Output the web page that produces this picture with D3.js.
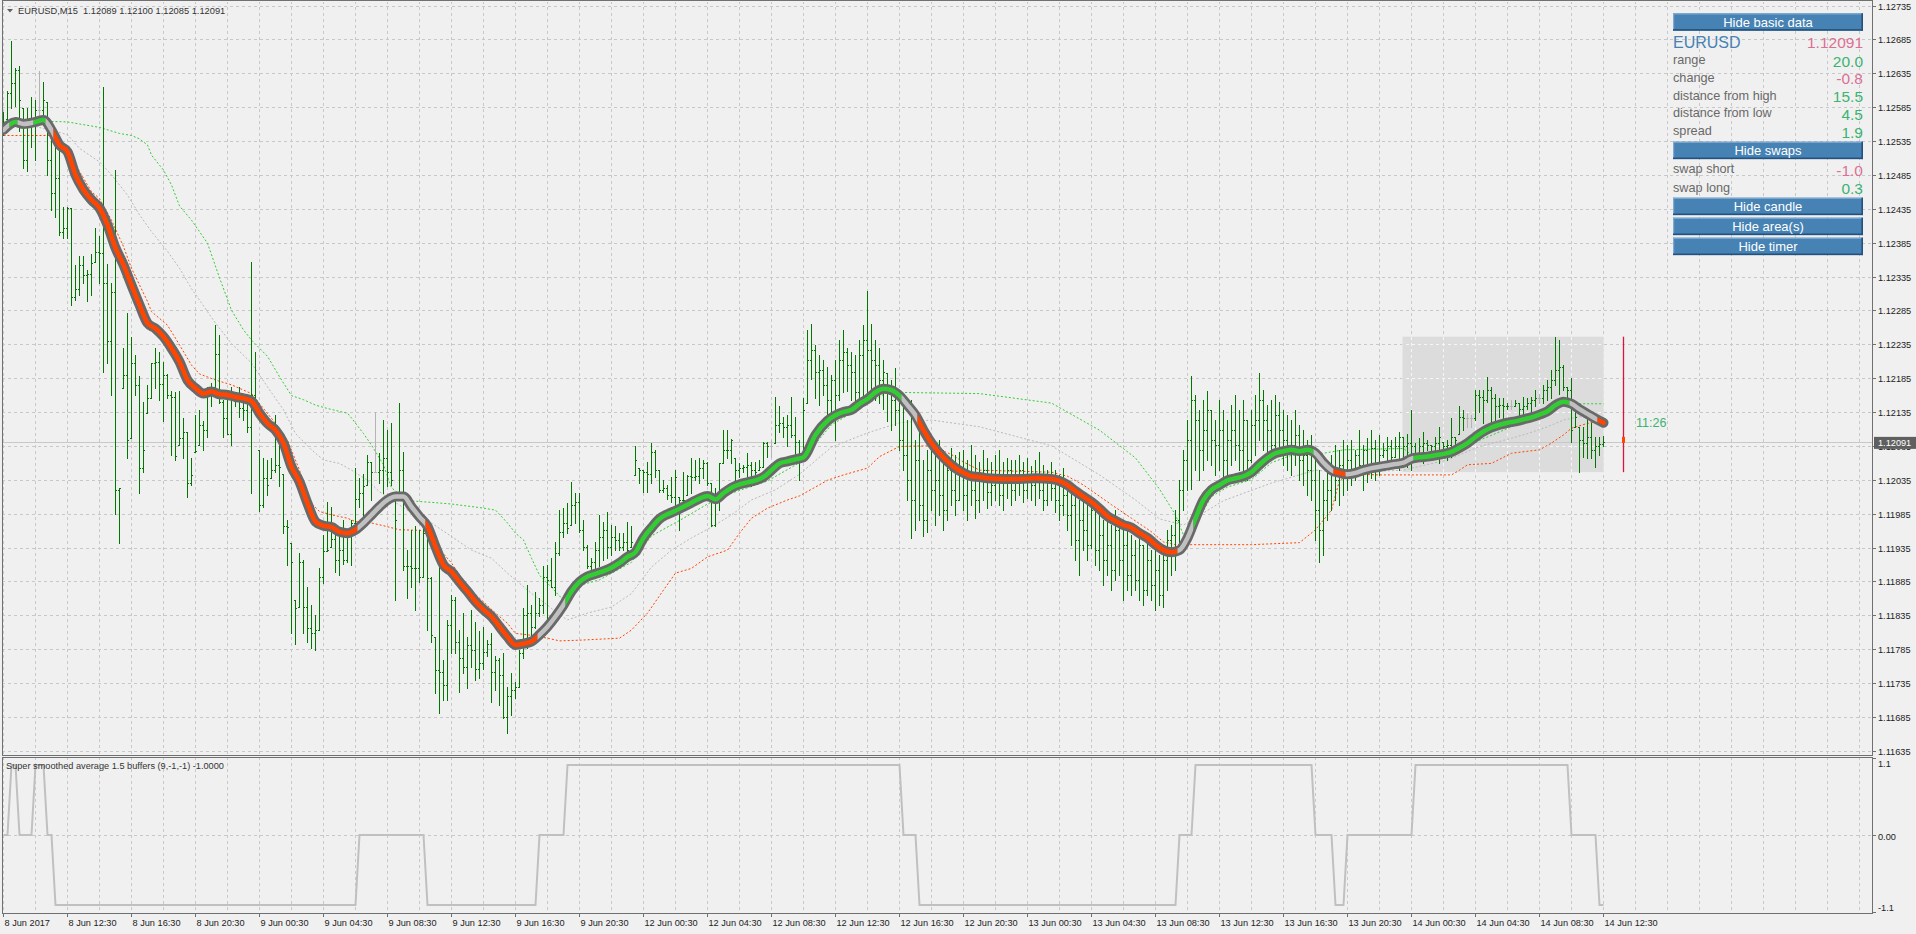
<!DOCTYPE html>
<html><head><meta charset="utf-8">
<script src="https://cdn.jsdelivr.net/npm/d3@7/dist/d3.min.js"></script>
<style>
html,body{margin:0;padding:0;background:#f0f0f0;overflow:hidden;}
svg{display:block;font-family:"Liberation Sans",Arial,sans-serif;}
</style></head><body>
<svg id="c" width="1916" height="934"></svg>
<script>
// ---------------- DATA ----------------
const symbol = "EURUSD", timeframe = "M15";
const priceTicks = [1.11635,1.11685,1.11735,1.11785,1.11835,1.11885,1.11935,1.11985,1.12035,1.12085,1.12135,1.12185,1.12235,1.12285,1.12335,1.12385,1.12435,1.12485,1.12535,1.12585,1.12635,1.12685,1.12735];
const timeLabels = ["8 Jun 2017","8 Jun 12:30","8 Jun 16:30","8 Jun 20:30","9 Jun 00:30","9 Jun 04:30","9 Jun 08:30","9 Jun 12:30","9 Jun 16:30","9 Jun 20:30","12 Jun 00:30","12 Jun 04:30","12 Jun 08:30","12 Jun 12:30","12 Jun 16:30","12 Jun 20:30","13 Jun 00:30","13 Jun 04:30","13 Jun 08:30","13 Jun 12:30","13 Jun 16:30","13 Jun 20:30","14 Jun 00:30","14 Jun 04:30","14 Jun 08:30","14 Jun 12:30"];
const subTicks = [1.1, 0, -1.1];
const subTickLabels = ["1.1", "0.00", "-1.1"];
const subTitle = "Super smoothed average 1.5 buffers (9,-1,-1) -1.0000";

const barHigh = [
1.12579,1.12609,1.12684,1.12643,1.12646,1.12584,1.12584,1.12601,1.12596,1.12639,1.12623,1.12594,1.12545,1.12542,1.12530,1.12439,1.12439,1.12437,1.12353,1.12366,
1.12366,1.12345,1.12369,1.12407,1.12395,1.12616,1.12354,1.12326,1.12493,1.12024,1.12230,1.12282,1.12247,1.12220,1.12189,1.12151,1.12176,1.12208,1.12230,1.12225,
1.12210,1.12192,1.12167,1.12166,1.12167,1.12127,1.12106,1.12068,1.12131,1.12139,1.12122,1.12173,1.12178,1.12264,1.12250,1.12154,1.12163,1.12173,1.12161,1.12173,
1.12154,1.12161,1.12358,1.12225,1.12080,1.12068,1.12065,1.12068,1.12131,1.12099,1.12045,1.11976,1.11942,1.11858,1.11927,1.11917,1.11878,1.11851,1.11836,1.11905,
1.11954,1.12003,1.11996,1.11967,1.11957,1.11976,1.11962,1.11976,1.12053,1.12038,1.12045,1.12072,1.12062,1.12136,1.12075,1.12124,1.12109,1.12119,1.12016,1.12149,
1.12077,1.11932,1.11962,1.11967,1.11962,1.11976,1.11967,1.11893,1.11804,1.11910,1.11770,1.11829,1.11866,1.11863,1.11814,1.11839,1.11804,1.11844,1.11826,1.11812,
1.11819,1.11799,1.11809,1.11775,1.11772,1.11780,1.11730,1.11750,1.11738,1.11785,1.11846,1.11880,1.11851,1.11870,1.11861,1.11908,1.11910,1.11920,1.11944,1.11991,
1.11994,1.12001,1.12033,1.12016,1.12016,1.11976,1.11940,1.11920,1.11944,1.11984,1.11974,1.11988,1.11969,1.11967,1.11957,1.11957,1.11973,1.11967,1.12085,1.12053,
1.12050,1.12062,1.12090,1.12080,1.12050,1.12035,1.12028,1.12040,1.12050,1.12011,1.12048,1.12043,1.12068,1.12065,1.12068,1.12065,1.12062,1.12031,1.12023,1.12060,
1.12110,1.12109,1.12096,1.12068,1.12060,1.12058,1.12076,1.12062,1.12062,1.12065,1.12092,1.12092,1.12095,1.12158,1.12144,1.12129,1.12131,1.12158,1.12129,1.12095,
1.12157,1.12257,1.12266,1.12235,1.12220,1.12213,1.12202,1.12190,1.12213,1.12242,1.12257,1.12230,1.12224,1.12220,1.12242,1.12264,1.12314,1.12266,1.12242,1.12230,
1.12213,1.12193,1.12183,1.12201,1.12168,1.12161,1.12124,1.12154,1.12095,1.12109,1.12065,1.12080,1.12087,1.12072,1.12095,1.12080,1.12062,1.12083,1.12072,1.12077,
1.12080,1.12065,1.12087,1.12072,1.12062,1.12080,1.12068,1.12062,1.12072,1.12080,1.12062,1.12068,1.12065,1.12065,1.12072,1.12062,1.12068,1.12056,1.12065,1.12077,
1.12058,1.12050,1.12062,1.12050,1.12043,1.12053,1.12035,1.12021,1.12028,1.12006,1.12013,1.11999,1.12009,1.11991,1.11999,1.11976,1.11984,1.11969,1.11991,1.11976,
1.11962,1.11969,1.11954,1.11947,1.11962,1.11940,1.11947,1.11932,1.11940,1.11925,1.11932,1.11962,1.11969,1.11991,1.12035,1.12080,1.12124,1.12189,1.12161,1.12139,
1.12154,1.12167,1.12139,1.12124,1.12154,1.12139,1.12124,1.12146,1.12161,1.12139,1.12154,1.12124,1.12139,1.12161,1.12193,1.12168,1.12146,1.12154,1.12161,1.12151,
1.12139,1.12131,1.12124,1.12139,1.12117,1.12109,1.12095,1.12102,1.12080,1.12050,1.12035,1.12065,1.12072,1.12087,1.12080,1.12095,1.12087,1.12095,1.12080,1.12109,
1.12087,1.12097,1.12109,1.12095,1.12102,1.12090,1.12099,1.12095,1.12099,1.12107,1.12099,1.12104,1.12139,1.12090,1.12097,1.12107,1.12095,1.12087,1.12099,1.12114,
1.12092,1.12095,1.12127,1.12099,1.12144,1.12139,1.12134,1.12131,1.12168,1.12168,1.12168,1.12188,1.12173,1.12163,1.12156,1.12156,1.12149,1.12154,1.12154,1.12149,
1.12158,1.12156,1.12158,1.12168,1.12163,1.12176,1.12183,1.12198,1.12247,1.12242,1.12205,1.12173,1.12186,1.12146,1.12114,1.12114,1.12129,1.12119,1.12099,1.12099,
1.12100];

const barLow = [
1.12545,1.12569,1.12584,1.12587,1.12550,1.12496,1.12491,1.12527,1.12508,1.12564,1.12567,1.12486,1.12434,1.12424,1.12397,1.12392,1.12392,1.12294,1.12301,1.12309,
1.12326,1.12299,1.12309,1.12358,1.12326,1.12195,1.12208,1.12161,1.11986,1.11942,1.12171,1.12068,1.12097,1.12161,1.12016,1.12048,1.12134,1.12156,1.12171,1.12154,
1.12122,1.12156,1.12072,1.12065,1.12087,1.12068,1.12011,1.12028,1.12077,1.12087,1.12080,1.12099,1.12144,1.12173,1.12149,1.12099,1.12104,1.12087,1.12144,1.12129,
1.12124,1.12107,1.12016,1.12134,1.11989,1.11996,1.12013,1.12038,1.12048,1.12026,1.11957,1.11910,1.11809,1.11794,1.11848,1.11809,1.11797,1.11787,1.11785,1.11814,
1.11883,1.11930,1.11937,1.11900,1.11895,1.11912,1.11915,1.11910,1.11967,1.11996,1.11981,1.12028,1.12006,1.12048,1.12031,1.12016,1.12026,1.12028,1.11858,1.12011,
1.11903,1.11861,1.11878,1.11844,1.11885,1.11893,1.11814,1.11797,1.11721,1.11691,1.11711,1.11711,1.11780,1.11780,1.11723,1.11750,1.11728,1.11760,1.11740,1.11743,
1.11757,1.11775,1.11708,1.11725,1.11703,1.11684,1.11662,1.11689,1.11713,1.11730,1.11772,1.11787,1.11799,1.11817,1.11834,1.11839,1.11829,1.11878,1.11866,1.11925,
1.11952,1.11957,1.11969,1.11972,1.11959,1.11932,1.11905,1.11903,1.11905,1.11908,1.11917,1.11920,1.11925,1.11932,1.11932,1.11932,1.11927,1.11937,1.12043,1.12031,
1.12018,1.12018,1.12031,1.12040,1.12018,1.12018,1.12008,1.12003,1.11991,1.11962,1.11989,1.12013,1.12016,1.12035,1.12031,1.12038,1.12028,1.11967,1.11967,1.11991,
1.12060,1.12068,1.12060,1.12035,1.12040,1.12048,1.12040,1.12026,1.12045,1.12050,1.12055,1.12070,1.12070,1.12090,1.12107,1.12099,1.12085,1.12099,1.12072,1.12035,
1.12077,1.12149,1.12185,1.12157,1.12146,1.12161,1.12123,1.12127,1.12095,1.12154,1.12165,1.12167,1.12154,1.12140,1.12148,1.12161,1.12149,1.12167,1.12154,1.12149,
1.12140,1.12123,1.12109,1.12117,1.12080,1.12050,1.12006,1.11950,1.11962,1.11976,1.11953,1.11959,1.11991,1.11969,1.11984,1.11962,1.11976,1.11999,1.11984,1.12006,
1.11991,1.11976,1.11999,1.11979,1.11988,1.12006,1.11994,1.11999,1.12006,1.11999,1.11991,1.12009,1.11999,1.12006,1.12013,1.12003,1.12009,1.12006,1.11999,1.12009,
1.11991,1.11999,1.12006,1.11988,1.11976,1.11984,1.11962,1.11940,1.11917,1.11895,1.11932,1.11917,1.11935,1.11910,1.11903,1.11880,1.11895,1.11873,1.11888,1.11895,
1.11858,1.11873,1.11866,1.11873,1.11858,1.11851,1.11866,1.11858,1.11844,1.11851,1.11848,1.11873,1.11895,1.11903,1.11940,1.11991,1.12021,1.12022,1.12050,1.12035,
1.12050,1.12065,1.12058,1.12043,1.12050,1.12035,1.12038,1.12058,1.12065,1.12050,1.12043,1.12035,1.12062,1.12072,1.12095,1.12080,1.12068,1.12065,1.12080,1.12072,
1.12058,1.12050,1.12043,1.12058,1.12035,1.12028,1.12013,1.12006,1.11947,1.11914,1.11925,1.11976,1.11991,1.12006,1.11999,1.12013,1.12021,1.12028,1.12035,1.12043,
1.12021,1.12033,1.12038,1.12035,1.12043,1.12070,1.12065,1.12060,1.12070,1.12050,1.12070,1.12055,1.12050,1.12065,1.12065,1.12060,1.12080,1.12070,1.12070,1.12060,
1.12080,1.12065,1.12070,1.12087,1.12104,1.12109,1.12114,1.12114,1.12124,1.12136,1.12119,1.12151,1.12114,1.12119,1.12129,1.12122,1.12141,1.12141,1.12144,1.12129,
1.12124,1.12141,1.12129,1.12144,1.12149,1.12149,1.12154,1.12156,1.12176,1.12163,1.12168,1.12149,1.12092,1.12114,1.12047,1.12070,1.12068,1.12068,1.12055,1.12072,
1.12085];

const barClose = [
1.12560,1.12606,1.12621,1.12640,1.12596,1.12508,1.12560,1.12567,1.12582,1.12582,1.12596,1.12508,1.12459,1.12481,1.12402,1.12408,1.12437,1.12306,1.12317,1.12353,
1.12338,1.12340,1.12356,1.12372,1.12371,1.12326,1.12240,1.12313,1.12021,1.12024,1.12190,1.12095,1.12208,1.12176,1.12053,1.12080,1.12157,1.12208,1.12210,1.12177,
1.12190,1.12161,1.12158,1.12071,1.12097,1.12107,1.12031,1.12043,1.12078,1.12117,1.12109,1.12161,1.12173,1.12222,1.12151,1.12127,1.12104,1.12156,1.12154,1.12142,
1.12139,1.12114,1.12161,1.12151,1.11999,1.12038,1.12028,1.12050,1.12058,1.12055,1.11967,1.11966,1.11915,1.11846,1.11915,1.11848,1.11817,1.11810,1.11814,1.11893,
1.11930,1.11932,1.11949,1.11917,1.11932,1.11917,1.11954,1.11972,1.12008,1.12016,1.12026,1.12062,1.12048,1.12048,1.12050,1.12068,1.12048,1.12035,1.11976,1.12050,
1.11908,1.11908,1.11905,1.11905,1.11893,1.11957,1.11891,1.11807,1.11755,1.11752,1.11733,1.11821,1.11858,1.11797,1.11772,1.11760,1.11792,1.11785,1.11757,1.11765,
1.11782,1.11794,1.11752,1.11770,1.11748,1.11686,1.11716,1.11725,1.11730,1.11780,1.11836,1.11839,1.11819,1.11839,1.11851,1.11893,1.11888,1.11878,1.11927,1.11959,
1.11972,1.11964,1.11999,1.12003,1.11962,1.11937,1.11908,1.11914,1.11932,1.11952,1.11962,1.11937,1.11952,1.11947,1.11937,1.11944,1.11932,1.11944,1.12065,1.12050,
1.12048,1.12045,1.12077,1.12050,1.12021,1.12024,1.12013,1.12011,1.12040,1.12006,1.12006,1.12041,1.12040,1.12041,1.12053,1.12061,1.12031,1.11969,1.12006,1.12060,
1.12080,1.12080,1.12094,1.12050,1.12053,1.12055,1.12058,1.12050,1.12048,1.12055,1.12090,1.12086,1.12086,1.12117,1.12120,1.12114,1.12117,1.12102,1.12092,1.12072,
1.12139,1.12213,1.12227,1.12195,1.12198,1.12176,1.12154,1.12183,1.12161,1.12213,1.12224,1.12205,1.12195,1.12165,1.12220,1.12242,1.12227,1.12213,1.12205,1.12183,
1.12195,1.12165,1.12154,1.12139,1.12095,1.12072,1.12035,1.12006,1.12065,1.11999,1.11976,1.12050,1.12021,1.12035,1.12013,1.11991,1.12050,1.12021,1.12006,1.12050,
1.12013,1.12038,1.12021,1.12006,1.12035,1.12050,1.12018,1.12028,1.12043,1.12013,1.12033,1.12050,1.12021,1.12038,1.12050,1.12021,1.12043,1.12028,1.12035,1.12021,
1.12006,1.12038,1.12024,1.12006,1.11999,1.12013,1.11984,1.11999,1.11947,1.11976,1.11962,1.11940,1.11991,1.11932,1.11954,1.11917,1.11940,1.11903,1.11962,1.11917,
1.11940,1.11895,1.11925,1.11888,1.11940,1.11873,1.11917,1.11880,1.11903,1.11866,1.11917,1.11947,1.11954,1.11976,1.12021,1.12065,1.12095,1.12154,1.12124,1.12080,
1.12109,1.12139,1.12095,1.12087,1.12109,1.12065,1.12095,1.12109,1.12087,1.12080,1.12124,1.12065,1.12117,1.12124,1.12154,1.12124,1.12109,1.12087,1.12131,1.12109,
1.12095,1.12080,1.12087,1.12102,1.12065,1.12072,1.12050,1.12035,1.11991,1.11962,1.12006,1.12021,1.12050,1.12035,1.12058,1.12050,1.12065,1.12050,1.12072,1.12058,
1.12080,1.12050,1.12083,1.12058,1.12072,1.12080,1.12085,1.12070,1.12085,1.12099,1.12085,1.12090,1.12085,1.12075,1.12085,1.12090,1.12087,1.12085,1.12090,1.12099,
1.12085,1.12087,1.12099,1.12095,1.12129,1.12127,1.12127,1.12127,1.12161,1.12158,1.12154,1.12168,1.12156,1.12144,1.12146,1.12144,1.12145,1.12145,1.12149,1.12141,
1.12144,1.12149,1.12154,1.12156,1.12156,1.12168,1.12173,1.12183,1.12198,1.12203,1.12173,1.12168,1.12109,1.12129,1.12095,1.12090,1.12099,1.12080,1.12085,1.12089,
1.12091];
const firstOpen = 1.12560;
const dojiBars = [9,93,192,366,367,377,384];

// super smoothed average, [bar, value]
const smoothLine = [[0,1.12552],[3,1.12564],[5,1.12561],[8,1.12564],[10,1.12567],[12,1.12552],[14,1.12530],[16,1.12520],[18,1.12486],[20,1.12464],[22,1.12449],[24,1.12437],[26,1.12412],[28,1.12378],[30,1.12353],[32,1.12323],[34,1.12294],[36,1.12267],[38,1.12259],[40,1.12247],[42,1.12230],[44,1.12210],[46,1.12183],[48,1.12171],[50,1.12163],[52,1.12166],[54,1.12162],[56,1.12161],[58,1.12158],[60,1.12156],[62,1.12152],[64,1.12134],[66,1.12119],[68,1.12109],[70,1.12090],[72,1.12055],[74,1.12033],[76,1.12001],[78,1.11974],[80,1.11968],[82,1.11966],[84,1.11959],[86,1.11957],[88,1.11962],[90,1.11972],[92,1.11984],[94,1.11996],[96,1.12006],[98,1.12011],[100,1.12011],[102,1.11996],[104,1.11981],[106,1.11967],[108,1.11937],[110,1.11910],[112,1.11900],[114,1.11885],[116,1.11871],[118,1.11856],[120,1.11844],[122,1.11834],[124,1.11819],[126,1.11804],[128,1.11792],[130,1.11794],[132,1.11797],[134,1.11807],[136,1.11819],[138,1.11834],[140,1.11851],[142,1.11871],[144,1.11885],[146,1.11893],[148,1.11897],[150,1.11901],[152,1.11906],[154,1.11913],[156,1.11922],[158,1.11929],[160,1.11950],[162,1.11965],[164,1.11978],[166,1.11985],[168,1.11990],[170,1.11996],[172,1.12002],[174,1.12008],[176,1.12012],[178,1.12007],[180,1.12016],[182,1.12024],[184,1.12029],[186,1.12032],[188,1.12035],[190,1.12040],[192,1.12050],[194,1.12060],[196,1.12063],[198,1.12066],[200,1.12069],[203,1.12102],[206,1.12123],[208,1.12131],[210,1.12136],[212,1.12139],[214,1.12148],[216,1.12155],[218,1.12165],[220,1.12170],[222,1.12168],[224,1.12160],[226,1.12146],[228,1.12131],[230,1.12109],[232,1.12090],[234,1.12075],[236,1.12063],[238,1.12053],[240,1.12046],[242,1.12041],[244,1.12040],[246,1.12038],[250,1.12037],[254,1.12037],[258,1.12038],[262,1.12037],[264,1.12034],[266,1.12028],[268,1.12019],[270,1.12011],[272,1.12003],[274,1.11993],[276,1.11982],[278,1.11975],[280,1.11969],[282,1.11965],[284,1.11957],[286,1.11950],[288,1.11940],[290,1.11932],[292,1.11929],[294,1.11932],[296,1.11950],[298,1.11979],[300,1.12006],[302,1.12021],[304,1.12028],[306,1.12035],[308,1.12038],[310,1.12041],[312,1.12047],[314,1.12058],[316,1.12068],[318,1.12075],[320,1.12078],[322,1.12080],[324,1.12078],[326,1.12080],[328,1.12075],[330,1.12061],[332,1.12050],[334,1.12046],[336,1.12044],[338,1.12046],[340,1.12050],[342,1.12053],[344,1.12055],[346,1.12057],[348,1.12059],[350,1.12061],[352,1.12067],[354,1.12069],[356,1.12070],[358,1.12072],[360,1.12074],[362,1.12077],[364,1.12083],[366,1.12090],[368,1.12099],[370,1.12107],[372,1.12113],[374,1.12117],[376,1.12120],[378,1.12122],[380,1.12125],[382,1.12128],[384,1.12132],[386,1.12137],[388,1.12146],[390,1.12151],[392,1.12148],[394,1.12140],[396,1.12133],[398,1.12126],[400,1.12120]];

// trend state runs [fromBar, toBar, state]
const stateRuns = [[0,1,0],[2,3,1],[4,7,0],[8,10,1],[11,12,0],[13,88,-1],[89,105,0],[106,133,-1],[134,140,0],[141,224,1],[225,228,0],[229,293,-1],[294,297,0],[298,327,1],[328,332,0],[333,335,-1],[336,352,0],[353,391,1],[392,398,0],[399,400,-1]];

const greenBand = [[0,1.12564],[11,1.12565],[16,1.12564],[19,1.12561],[24,1.12556],[29,1.12547],[32,1.12544],[34,1.12539],[36,1.12530],[37,1.12515],[40,1.12493],[42,1.12471],[44,1.12440],[47,1.12419],[51,1.12385],[54,1.12334],[57,1.12286],[60,1.12257],[62,1.12242],[66,1.12218],[69,1.12188],[72,1.12160],[75,1.12154],[78,1.12146],[81,1.12141],[86,1.12134],[87,1.12127],[90,1.12104],[92,1.12087],[95,1.12058],[97,1.12024],[101,1.12005],[108,1.12002],[112,1.12000],[120,1.11994],[123,1.11991],[126,1.11972],[128,1.11957],[130,1.11947],[132,1.11920],[134,1.11895],[137,1.11877],[140,1.11858],[144,1.11880],[149,1.11888],[157,1.11914],[162,1.11953],[170,1.11979],[176,1.12000],[182,1.12016],[191,1.12034],[199,1.12061],[207,1.12117],[216,1.12148],[221,1.12165],[244,1.12163],[262,1.12149],[274,1.12109],[283,1.12068],[289,1.12022],[293,1.11984],[295,1.11954],[298,1.11970],[302,1.12011],[306,1.12025],[312,1.12036],[317,1.12061],[322,1.12072],[328,1.12073],[335,1.12080],[350,1.12082],[354,1.12063],[362,1.12069],[369,1.12094],[377,1.12114],[385,1.12129],[389,1.12145],[392,1.12148],[400,1.12148]];
const grayBand = [[8,1.12557],[12,1.12552],[16,1.12545],[19,1.12525],[24,1.12505],[27,1.12486],[31,1.12456],[34,1.12427],[37,1.12402],[41,1.12373],[44,1.12348],[47,1.12318],[49,1.12301],[53,1.12267],[57,1.12237],[62,1.12208],[66,1.12173],[70,1.12139],[73,1.12104],[77,1.12080],[80,1.12065],[84,1.12060],[87,1.12050],[91,1.12035],[94,1.12018],[97,1.12006],[102,1.11987],[107,1.11972],[112,1.11952],[117,1.11932],[122,1.11920],[126,1.11898],[129,1.11883],[132,1.11868],[136,1.11851],[139,1.11836],[141,1.11829],[146,1.11839],[152,1.11848],[157,1.11868],[162,1.11907],[167,1.11932],[172,1.11950],[177,1.11966],[182,1.11984],[187,1.12006],[193,1.12021],[199,1.12044],[207,1.12084],[216,1.12105],[224,1.12120],[232,1.12124],[244,1.12114],[262,1.12086],[274,1.12043],[283,1.12006],[289,1.11978],[295,1.11969],[305,1.12005],[317,1.12031],[328,1.12050],[335,1.12046],[350,1.12050],[352,1.12053],[361,1.12065],[369,1.12085],[377,1.12097],[381,1.12104],[386,1.12114],[390,1.12124],[394,1.12129],[400,1.12127]];
const orangeBand = [[0,1.12544],[12,1.12544],[14,1.12537],[18,1.12501],[22,1.12461],[24,1.12451],[27,1.12419],[30,1.12380],[32,1.12348],[36,1.12299],[37,1.12284],[41,1.12264],[44,1.12235],[47,1.12205],[49,1.12192],[53,1.12183],[57,1.12176],[62,1.12163],[65,1.12141],[68,1.12119],[71,1.12094],[74,1.12050],[77,1.12001],[79,1.11989],[82,1.11984],[86,1.11979],[88,1.11974],[92,1.11972],[95,1.11968],[99,1.11962],[105,1.11961],[107,1.11947],[112,1.11913],[116,1.11878],[119,1.11861],[123,1.11839],[126,1.11824],[128,1.11809],[131,1.11807],[136,1.11802],[139,1.11798],[144,1.11799],[154,1.11802],[157,1.11814],[161,1.11839],[165,1.11873],[168,1.11898],[172,1.11905],[176,1.11922],[181,1.11932],[184,1.11957],[187,1.11979],[191,1.11994],[196,1.12006],[199,1.12012],[206,1.12035],[210,1.12043],[216,1.12053],[219,1.12070],[224,1.12085],[232,1.12086],[237,1.12073],[240,1.12062],[244,1.12050],[250,1.12049],[262,1.12047],[266,1.12041],[270,1.12028],[277,1.11999],[282,1.11979],[287,1.11959],[290,1.11944],[293,1.11940],[312,1.11940],[324,1.11943],[328,1.11962],[332,1.11991],[334,1.12035],[337,1.12044],[344,1.12043],[362,1.12043],[364,1.12050],[366,1.12058],[372,1.12060],[377,1.12075],[384,1.12080],[387,1.12090],[390,1.12102],[392,1.12112],[396,1.12119],[400,1.12124]];

const dayStartBar = 350;      // 14 Jun 00:00
const timerBar = 405;
const timerText = "11:26";
const currentPrice = 1.12091;

const buttonLabels = ["Hide basic data","Hide swaps","Hide candle","Hide area(s)","Hide timer"];
const infoLabels = ["range","change","distance from high","distance from low","spread"];
const infoValues = ["20.0","-0.8","15.5","4.5","1.9"];
const swapLabels = ["swap short","swap long"];
const swapValues = ["-1.0","0.3"];

// ---------------- DRAW ----------------
const W = 1916, H = 934, L = 2, R = 1872;
const mainTop = 1, mainBot = 755, subTop = 757, subBot = 913;
const N = barClose.length;
const xs = d3.scaleLinear().domain([0, 400]).range([3.5, 1603.5]);
const y = d3.scaleLinear().domain([1.11635, 1.12735]).range([751.3, 6.1]);
const ys = d3.scaleLinear().domain([-1.1, 1.1]).range([912, 758]);
const fmt5 = d3.format(".5f");
const cr = v => Math.round(v - 0.5) + 0.5;

const barOpen = barClose.map((c, i) => {
  if (dojiBars.includes(i)) return c;
  const o = i === 0 ? firstOpen : barClose[i - 1];
  return Math.max(barLow[i], Math.min(barHigh[i], o));
});

const svg = d3.select("#c");
svg.append("rect").attr("width", W).attr("height", H).attr("fill", "#f0f0f0");
const defs = svg.append("defs");
defs.append("clipPath").attr("id", "mainClip").append("rect")
  .attr("x", L + 1).attr("y", mainTop + 1).attr("width", R - L - 1).attr("height", mainBot - mainTop - 1);
defs.append("clipPath").attr("id", "subClip").append("rect")
  .attr("x", L + 1).attr("y", subTop + 1).attr("width", R - L - 1).attr("height", subBot - subTop - 1);

const main = svg.append("g").attr("clip-path", "url(#mainClip)");
const sub = svg.append("g").attr("clip-path", "url(#subClip)");

// day area
const dayBars = d3.range(dayStartBar, N);
const dayHigh = d3.max(dayBars, i => barHigh[i]);
const dayLow = d3.min(dayBars, i => barLow[i]);
const areaX0 = xs(dayStartBar) - 1, areaX1 = xs(N - 1);
main.append("rect").attr("x", areaX0).attr("y", y(dayHigh))
  .attr("width", areaX1 - areaX0).attr("height", y(dayLow) - y(dayHigh)).attr("fill", "#dcdcdc");

// grid
const vGrid = d3.range(0, 59).map(k => xs(k * 8));
function drawGrid(g, top, bot, hVals, yScale, color) {
  g.selectAll(null).data(vGrid).join("line")
    .attr("x1", d => cr(d)).attr("x2", d => cr(d)).attr("y1", top).attr("y2", bot)
    .attr("stroke", color).attr("stroke-dasharray", "3,3").attr("shape-rendering", "crispEdges");
  g.selectAll(null).data(hVals).join("line")
    .attr("x1", L).attr("x2", R).attr("y1", d => cr(yScale(d))).attr("y2", d => cr(yScale(d)))
    .attr("stroke", color).attr("stroke-dasharray", "3,3").attr("shape-rendering", "crispEdges");
}
drawGrid(main, mainTop, mainBot, priceTicks, y, "#c8c8c8");
defs.append("clipPath").attr("id", "areaClip").append("rect").attr("x", areaX0).attr("y", y(dayHigh))
  .attr("width", areaX1 - areaX0).attr("height", y(dayLow) - y(dayHigh));
drawGrid(main.append("g").attr("clip-path", "url(#areaClip)"), mainTop, mainBot, priceTicks, y, "#f6f6f6");
drawGrid(sub, subTop, subBot, [0], ys, "#c8c8c8");

// current price line
main.append("line").attr("x1", L).attr("x2", R).attr("y1", cr(y(currentPrice))).attr("y2", cr(y(currentPrice)))
  .attr("stroke", "#c8c8c8").attr("shape-rendering", "crispEdges");

// dotted bands
const band = d3.line().x(d => xs(d[0])).y(d => y(d[1]));
[[grayBand, "#b9b9b9"], [greenBand, "#32cd32"], [orangeBand, "#ff4500"]].forEach(([data, col]) => {
  main.append("path").attr("d", band(data)).attr("fill", "none").attr("stroke", col)
    .attr("stroke-width", 1).attr("stroke-dasharray", "2,2");
});

// OHLC bars
const bars = main.append("g").attr("shape-rendering", "crispEdges");
for (let i = 0; i < N; i++) {
  const col = dojiBars.includes(i) ? "#b4b4b4" : "#007800";
  const xc = xs(i);
  const yh = Math.round(y(barHigh[i])), yl = Math.round(y(barLow[i]));
  bars.append("rect").attr("x", xc - 0.5).attr("y", yh).attr("width", 1).attr("height", Math.max(1, yl - yh + 1)).attr("fill", col);
  bars.append("rect").attr("x", xc - 1.5).attr("y", Math.round(y(barOpen[i]))).attr("width", 1).attr("height", 1).attr("fill", col);
  bars.append("rect").attr("x", xc + 0.5).attr("y", Math.round(y(barClose[i]))).attr("width", 1).attr("height", 1).attr("fill", col);
}

// smoothed average (thick, coloured by state)
const sLine = d3.line().x(d => xs(d[0])).y(d => y(d[1])).curve(d3.curveMonotoneX);
const sPath = sLine(smoothLine);
main.append("path").attr("d", sPath).attr("fill", "none").attr("stroke", "#696969")
  .attr("stroke-width", 10).attr("stroke-linejoin", "round").attr("stroke-linecap", "round");
const stateColor = s => s > 0 ? "#32cd32" : (s < 0 ? "#ff4500" : "#c0c0c0");
stateRuns.forEach((r, k) => {
  const x0 = r[0] === 0 ? 0 : xs(r[0] - 0.5), x1 = r[1] === N - 1 ? W : xs(r[1] + 0.5);
  defs.append("clipPath").attr("id", "run" + k).append("rect").attr("x", x0).attr("y", 0).attr("width", x1 - x0).attr("height", mainBot);
  main.append("path").attr("d", sPath).attr("fill", "none").attr("stroke", stateColor(r[2]))
    .attr("stroke-width", 4.5).attr("stroke-linejoin", "round").attr("stroke-linecap", "round")
    .attr("clip-path", "url(#run" + k + ")");
});

// timer marker
const timerX = xs(timerBar);
main.append("line").attr("x1", timerX).attr("x2", timerX).attr("y1", y(dayHigh)).attr("y2", y(dayLow))
  .attr("stroke", "#dc143c").attr("stroke-width", 1.3);
main.append("rect").attr("x", timerX - 1.5).attr("y", y(currentPrice) - 5.5).attr("width", 3).attr("height", 6).attr("fill", "#ff4500");
svg.append("text").attr("x", timerX + 12.5).attr("y", 423).attr("dominant-baseline", "central")
  .attr("font-size", 12.5).attr("fill", "#3cb371").text(timerText);

// sub-window: state step line
const stateVals = [];
stateRuns.forEach(r => { for (let i = r[0]; i <= r[1]; i++) stateVals.push([i, r[2]]); });
sub.append("path").attr("d", d3.line().x(d => xs(d[0])).y(d => ys(d[1]))(stateVals))
  .attr("fill", "none").attr("stroke", "#c0c0c0").attr("stroke-width", 2);
svg.append("text").attr("x", 6).attr("y", 766).attr("dominant-baseline", "central")
  .attr("font-size", 9.2).attr("fill", "#333").text(subTitle);

// frames
const frame = svg.append("g").attr("fill", "none").attr("stroke", "#707070").attr("shape-rendering", "crispEdges");
frame.append("rect").attr("x", L + 0.5).attr("y", mainTop - 0.5).attr("width", R - L).attr("height", mainBot - mainTop + 1);
frame.append("rect").attr("x", L + 0.5).attr("y", subTop + 0.5).attr("width", R - L).attr("height", subBot - subTop);

// right price axis
const ax = svg.append("g").attr("font-size", 9.2).attr("fill", "#222");
priceTicks.forEach(p => {
  const yy = cr(y(p));
  ax.append("line").attr("x1", R).attr("x2", R + 4).attr("y1", yy).attr("y2", yy).attr("stroke", "#707070").attr("shape-rendering", "crispEdges");
  ax.append("text").attr("x", R + 6).attr("y", yy).attr("dominant-baseline", "central").text(fmt5(p));
});
const boxY = y(currentPrice);
svg.append("rect").attr("x", R + 2).attr("y", boxY - 5.5).attr("width", W - R - 2).attr("height", 12).attr("fill", "#5f5f5f");
svg.append("text").attr("x", R + 6).attr("y", boxY + 0.5).attr("dominant-baseline", "central")
  .attr("font-size", 9.2).attr("fill", "#ffffff").text(fmt5(currentPrice));

// sub axis
subTicks.forEach((v, k) => {
  const yy = cr(ys(v));
  ax.append("line").attr("x1", R).attr("x2", R + 4).attr("y1", yy).attr("y2", yy).attr("stroke", "#707070").attr("shape-rendering", "crispEdges");
  const ty = k === 0 ? yy + 5 : (k === 2 ? yy - 5 : yy + 1);
  ax.append("text").attr("x", R + 6).attr("y", ty).attr("dominant-baseline", "central").text(subTickLabels[k]);
});

// time axis
timeLabels.forEach((t, k) => {
  const xx = xs(k * 16);
  ax.append("line").attr("x1", xx).attr("x2", xx).attr("y1", subBot).attr("y2", subBot + 4).attr("stroke", "#707070").attr("shape-rendering", "crispEdges");
  ax.append("text").attr("x", xx + 1).attr("y", 923).attr("dominant-baseline", "central").text(t);
});

// title
svg.append("path").attr("d", "M7,9 L13,9 L10,12.5 Z").attr("fill", "#606060");
const last = N - 1;
svg.append("text").attr("x", 18).attr("y", 11).attr("dominant-baseline", "central")
  .attr("font-size", 9.3).attr("fill", "#333").style("white-space", "pre")
  .text(`${symbol},${timeframe}  ${fmt5(barOpen[last])} ${fmt5(barHigh[last])} ${fmt5(barLow[last])} ${fmt5(barClose[last])}`);

// info panel
const px0 = 1673, px1 = 1863, pw = px1 - px0;
const btnY = [13.3, 141.7, 197.7, 217.7, 237.7];
const info = svg.append("g");
buttonLabels.forEach((t, k) => {
  const by = btnY[k], bh = 17.4;
  info.append("rect").attr("x", px0).attr("y", by).attr("width", pw).attr("height", bh).attr("fill", "#4682b4");
  info.append("rect").attr("x", px0).attr("y", by).attr("width", pw).attr("height", 1.2).attr("fill", "#7fa9cf");
  info.append("rect").attr("x", px0).attr("y", by).attr("width", 1.2).attr("height", bh).attr("fill", "#7fa9cf");
  info.append("rect").attr("x", px0).attr("y", by + bh - 1.6).attr("width", pw).attr("height", 1.6).attr("fill", "#24527e");
  info.append("rect").attr("x", px1 - 1.6).attr("y", by).attr("width", 1.6).attr("height", bh).attr("fill", "#24527e");
  info.append("text").attr("x", px0 + pw / 2).attr("y", by + bh / 2).attr("text-anchor", "middle")
    .attr("dominant-baseline", "central").attr("font-size", 13).attr("fill", "#ffffff").text(t);
});
const valColor = v => v.trim().startsWith("-") ? "#db7093" : "#3cb371";
info.append("text").attr("x", px0).attr("y", 42.5).attr("dominant-baseline", "central")
  .attr("font-size", 16).attr("fill", "#4682b4").text(symbol);
info.append("text").attr("x", px1).attr("y", 42.5).attr("text-anchor", "end").attr("dominant-baseline", "central")
  .attr("font-size", 15.5).attr("fill", "#db7093").text(fmt5(currentPrice));
const rowY = [60, 77.7, 95.7, 113.3, 131];
infoLabels.forEach((t, k) => {
  info.append("text").attr("x", px0).attr("y", rowY[k]).attr("dominant-baseline", "central")
    .attr("font-size", 12.7).attr("fill", "#696969").text(t);
  info.append("text").attr("x", px1).attr("y", rowY[k] + 1).attr("text-anchor", "end").attr("dominant-baseline", "central")
    .attr("font-size", 15.5).attr("fill", valColor(infoValues[k])).text(infoValues[k]);
});
const swapY = [169.3, 187.7];
swapLabels.forEach((t, k) => {
  info.append("text").attr("x", px0).attr("y", swapY[k]).attr("dominant-baseline", "central")
    .attr("font-size", 12.7).attr("fill", "#696969").text(t);
  info.append("text").attr("x", px1).attr("y", swapY[k] + 1).attr("text-anchor", "end").attr("dominant-baseline", "central")
    .attr("font-size", 15.5).attr("fill", valColor(swapValues[k])).text(swapValues[k]);
});
</script></body></html>
